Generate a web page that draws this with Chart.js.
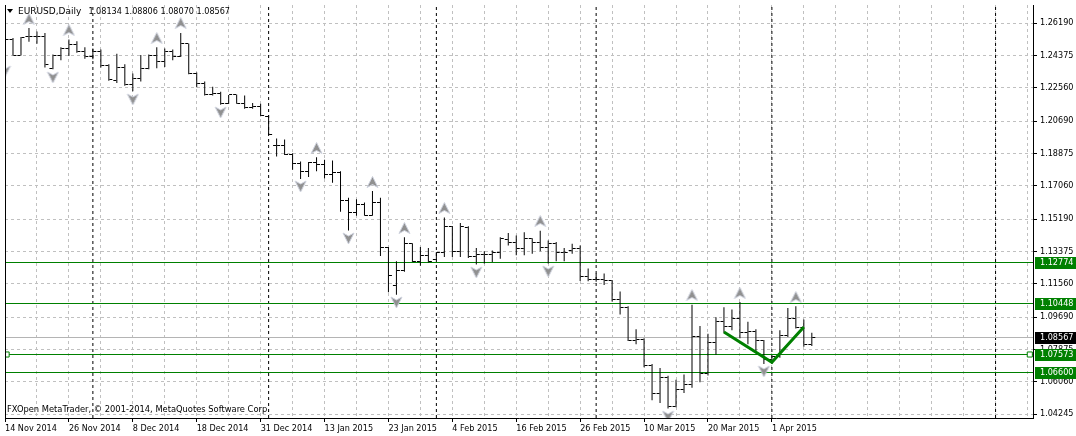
<!DOCTYPE html>
<html><head><meta charset="utf-8">
<script src="https://cdn.jsdelivr.net/npm/chart.js@4.4.1/dist/chart.umd.min.js"></script>
<style>html,body{margin:0;padding:0;background:#fff;overflow:hidden}#wrap{width:1076px;height:436px}</style>
</head><body><div id="wrap"><canvas id="c" width="1076" height="436"></canvas></div>
<script>
// ---------------- data ----------------
const symbolName = 'EURUSD,Daily';
const copyright = 'FXOpen MetaTrader, \u00a9 2001-2014, MetaQuotes Software Corp.';
const dateLabels = ['14 Nov 2014','26 Nov 2014','8 Dec 2014','18 Dec 2014','31 Dec 2014','13 Jan 2015','23 Jan 2015','4 Feb 2015','16 Feb 2015','26 Feb 2015','10 Mar 2015','20 Mar 2015','1 Apr 2015'];
const opens = [1.25200,1.25264,1.24393,1.25414,1.25447,1.25414,1.23656,1.24393,1.24765,1.24987,1.24615,1.24338,1.24615,1.23783,1.22990,1.23694,1.22768,1.23101,1.23639,1.24393,1.24027,1.24582,1.24304,1.25025,1.23362,1.22807,1.22175,1.22252,1.21659,1.22158,1.21698,1.21476,1.21531,1.20955,1.19346,1.19291,1.18831,1.18331,1.17871,1.18370,1.18237,1.17683,1.17816,1.16207,1.15558,1.16019,1.15409,1.16113,1.13579,1.11454,1.12325,1.13800,1.12824,1.13157,1.12896,1.13301,1.14782,1.13396,1.14727,1.13063,1.13190,1.13190,1.13301,1.14044,1.13856,1.13523,1.14078,1.13895,1.13617,1.13800,1.13301,1.13400,1.13562,1.11992,1.11771,1.11800,1.11715,1.10695,1.10234,1.08387,1.08443,1.06962,1.05393,1.06313,1.04688,1.05614,1.05908,1.08570,1.06500,1.08250,1.09419,1.09181,1.09608,1.08809,1.08864,1.08349,1.07334,1.07461,1.08681,1.09608,1.09100,1.08134];
const highs = [1.25458,1.25358,1.25414,1.25913,1.25724,1.25636,1.24432,1.24837,1.25264,1.25170,1.24837,1.24765,1.24709,1.23877,1.24471,1.23877,1.23362,1.24393,1.24432,1.24837,1.24765,1.24709,1.25636,1.25042,1.23417,1.22918,1.22619,1.22341,1.22158,1.22175,1.22119,1.21698,1.21659,1.21010,1.19718,1.19662,1.18886,1.18426,1.18387,1.18664,1.18514,1.18481,1.17871,1.16390,1.16296,1.16113,1.16762,1.16390,1.13617,1.12824,1.14172,1.13830,1.13617,1.13560,1.13340,1.15281,1.14800,1.14965,1.14782,1.13562,1.13379,1.13420,1.14172,1.14410,1.14266,1.14449,1.14116,1.14532,1.13989,1.13895,1.13562,1.13800,1.13712,1.12414,1.12137,1.12137,1.11771,1.11122,1.10290,1.08998,1.08498,1.07056,1.06835,1.06400,1.06169,1.06463,1.10384,1.09181,1.08754,1.09680,1.10234,1.10107,1.10528,1.09419,1.08998,1.08400,1.07517,1.08942,1.10195,1.10290,1.09552,1.08806];
const lows = [1.23933,1.24377,1.24377,1.25136,1.25025,1.23694,1.23600,1.24099,1.24338,1.24526,1.24194,1.24155,1.23694,1.22951,1.22824,1.22674,1.22363,1.22918,1.23600,1.23656,1.23728,1.24099,1.24282,1.23323,1.22585,1.22119,1.22119,1.21604,1.21650,1.21659,1.21382,1.21382,1.20955,1.19901,1.18703,1.18792,1.17960,1.17444,1.17555,1.17871,1.17472,1.17222,1.15597,1.14544,1.15375,1.15375,1.15375,1.13118,1.11083,1.10939,1.12231,1.12785,1.12564,1.12747,1.12880,1.13063,1.13063,1.13063,1.13007,1.12636,1.12691,1.12785,1.12968,1.13712,1.13157,1.13157,1.13246,1.13379,1.12691,1.12824,1.12824,1.13246,1.11715,1.11700,1.11676,1.11493,1.10567,1.09829,1.08349,1.08166,1.06868,1.05021,1.04871,1.04561,1.04620,1.05426,1.05725,1.06036,1.06408,1.07572,1.08809,1.08942,1.08498,1.08166,1.07700,1.07056,1.07090,1.07400,1.08570,1.09050,1.08020,1.08070];
const closes = [1.25264,1.24393,1.25358,1.25447,1.25414,1.23877,1.24393,1.24765,1.24987,1.24615,1.24338,1.24615,1.23783,1.23046,1.23694,1.22768,1.23101,1.23639,1.24393,1.24027,1.24582,1.24304,1.25025,1.23362,1.22807,1.22175,1.22252,1.21659,1.22158,1.21698,1.21476,1.21531,1.21010,1.19940,1.19291,1.18831,1.18331,1.17871,1.18370,1.18237,1.17683,1.17816,1.16207,1.15558,1.16019,1.15409,1.16113,1.13617,1.12048,1.12325,1.13800,1.12824,1.13157,1.12785,1.13285,1.14782,1.13396,1.14782,1.13063,1.13190,1.13200,1.13301,1.14078,1.13856,1.13523,1.14078,1.13895,1.13617,1.13800,1.13301,1.13340,1.13562,1.11954,1.11771,1.11800,1.11715,1.10695,1.10234,1.08387,1.08443,1.06962,1.05393,1.06313,1.04688,1.05614,1.05908,1.08570,1.06500,1.08250,1.09419,1.09181,1.09608,1.08809,1.08864,1.08349,1.07334,1.07461,1.08681,1.09608,1.09100,1.08134,1.08567];
const upFractals = [3,8,19,22,39,46,50,55,67,86,92,99];
const downFractals = [0,6,16,27,37,43,49,59,68,83,95];
const separators = [11,33,54,74,96,124];
const priceTicks = [1.26190,1.24375,1.22560,1.20690,1.18875,1.17060,1.15190,1.13375,1.11560,1.09690,1.07875,1.06060,1.04245];
const greenLevels = [1.12774,1.10448,1.07573,1.06600];
const selectedLevel = 1.07573;
const bidLevel = 1.08567;
const trendIdx = [90,96,100];
const trendPrice = [1.08848,1.07145,1.09125];

// ---------------- view settings ----------------
const X_MIN = 0, X_MAX = 128.6875;
const Y_MAX = 1.27205, Y_MIN = 1.04023;
const TICK_OFF = 0.25;
const FONT_FAMILY = '"DejaVu Sans Condensed", "DejaVu Sans", sans-serif';
const FONT_SIZE = 9;
const FONT_CSS = FONT_SIZE + 'px ' + FONT_FAMILY;
const GREEN = '#008000';

function labelFor(v) {
  if (v % 8 === 0 && v / 8 < dateLabels.length) return dateLabels[v / 8];
  return '';
}

function makeArrow(up) {
  const c = document.createElement('canvas');
  c.width = 13; c.height = 37;
  const g = c.getContext('2d');
  const cy = up ? 18.5 - 9.5 : 18.5 + 8;
  g.translate(6.5, cy);
  if (!up) g.scale(1, -1);
  g.beginPath();
  g.moveTo(0, -5.5); g.lineTo(5.5, 5.5); g.lineTo(0, 2.5); g.lineTo(-5.5, 5.5); g.closePath();
  g.fillStyle = '#909090'; g.fill();
  g.strokeStyle = '#ccd0dc'; g.lineWidth = 1; g.stroke();
  return c;
}
const upArrow = makeArrow(true), downArrow = makeArrow(false);

const hl = highs.map((h, i) => ({x: i, y: [lows[i], h]}));
const openPts = opens.map((o, i) => ({x: i - TICK_OFF, y: o}));
const closePts = closes.map((c, i) => ({x: i + TICK_OFF, y: c}));

const datasets = [];
datasets.push({type: 'line', data: trendIdx.map((t, k) => ({x: t, y: trendPrice[k]})), borderColor: GREEN, borderWidth: 3, pointRadius: 0, order: 0, tension: 0});
datasets.push({type: 'scatter', data: [{x: X_MIN + 0.2, y: selectedLevel}, {x: X_MAX - 0.4, y: selectedLevel}], pointStyle: 'rect', pointRadius: 3.6, pointBackgroundColor: '#fff', pointBorderColor: GREEN, pointBorderWidth: 1, order: 0, snapLevel: selectedLevel});
datasets.push({type: 'scatter', data: upFractals.map(i => ({x: i, y: highs[i]})), pointStyle: upArrow, order: 1, snapTranslate: true});
datasets.push({type: 'scatter', data: downFractals.map(i => ({x: i, y: lows[i]})), pointStyle: downArrow, order: 1, snapTranslate: true});
datasets.push({type: 'scatter', data: openPts, pointStyle: 'line', pointRadius: 1.5, pointBorderWidth: 1, pointBorderColor: '#000', order: 2, snapLines: true});
datasets.push({type: 'scatter', data: closePts, pointStyle: 'line', pointRadius: 1.5, pointBorderWidth: 1, pointBorderColor: '#000', order: 2, snapLines: true});
datasets.push({type: 'bar', data: hl, backgroundColor: '#000', borderWidth: 0, barThickness: 1, inflateAmount: 0, order: 2});
greenLevels.forEach(v => datasets.push({type: 'line', data: [{x: X_MIN, y: v}, {x: X_MAX, y: v}], borderColor: GREEN, borderWidth: 1, pointRadius: 0, order: 3, snapLevel: v}));
datasets.push({type: 'line', data: [{x: X_MIN, y: bidLevel}, {x: X_MAX, y: bidLevel}], borderColor: '#b4b4b4', borderWidth: 1, pointRadius: 0, order: 4, snapLevel: bidLevel});
separators.forEach(s => datasets.push({type: 'line', data: [{x: s, y: Y_MIN}, {x: s, y: Y_MAX}], borderColor: '#000', borderWidth: 1, borderDash: [3, 3], pointRadius: 0, order: 5}));

// pixel snapping so 1px lines stay crisp like the terminal's
const snap = {
  id: 'snap',
  beforeDatasetDraw(chart, args) {
    const ds = chart.data.datasets[args.index];
    const ctx = chart.ctx;
    if (ds.snapLevel !== undefined) {
      const py = chart.scales.y.getPixelForValue(ds.snapLevel);
      ctx.save();
      ctx.translate(0, Math.floor(py) + 0.5 - py);
      ds._saved = true;
    }
    if (ds.snapLines) {
      const mt = CanvasRenderingContext2D.prototype.moveTo, lt = CanvasRenderingContext2D.prototype.lineTo;
      ctx.moveTo = function (x, y) { return mt.call(this, x, Math.floor(y) + 0.5); };
      ctx.lineTo = function (x, y) { return lt.call(this, x, Math.floor(y) + 0.5); };
    }
    if (ds.snapTranslate) {
      const tr = CanvasRenderingContext2D.prototype.translate;
      ctx.translate = function (x, y) { return tr.call(this, x, Math.floor(y) + 0.5); };
    }
  },
  afterDatasetDraw(chart, args) {
    const ds = chart.data.datasets[args.index];
    const ctx = chart.ctx;
    if (ds.snapLines) { delete ctx.moveTo; delete ctx.lineTo; }
    if (ds.snapTranslate) { delete ctx.translate; }
    if (ds._saved) { ctx.restore(); ds._saved = false; }
  }
};

const overlay = {
  id: 'overlay',
  afterDraw(chart) {
    const {ctx, chartArea: a, scales: {y}} = chart;
    ctx.save();
    ctx.strokeStyle = '#000'; ctx.lineWidth = 1;
    const lx = Math.floor(a.left) + 0.5;
    ctx.beginPath(); ctx.moveTo(lx, a.top); ctx.lineTo(lx, a.bottom); ctx.stroke();
    ctx.font = FONT_CSS; ctx.textBaseline = 'middle'; ctx.textAlign = 'left';
    const boxes = greenLevels.map(v => ({v, bg: GREEN})).concat([{v: bidLevel, bg: '#000'}]);
    boxes.forEach(b => {
      const py = Math.floor(y.getPixelForValue(b.v));
      ctx.fillStyle = b.bg;
      ctx.fillRect(a.right + 2, py - 5, chart.width - a.right - 2, 12);
      ctx.fillStyle = '#fff';
      ctx.fillText(b.v.toFixed(5), a.right + 7, py + 1);
    });
    // title
    ctx.fillStyle = '#000';
    ctx.beginPath(); ctx.moveTo(7, 9); ctx.lineTo(13, 9); ctx.lineTo(10, 13); ctx.closePath(); ctx.fill();
    ctx.font = FONT_SIZE + 'px "DejaVu Sans", sans-serif';
    ctx.fillText(symbolName, 18, 11.5);
    const w = ctx.measureText(symbolName).width;
    ctx.font = FONT_CSS;
    const n = opens.length - 1;
    const ohlc = [opens[n], highs[n], lows[n], closes[n]].map(v => v.toFixed(5)).join(' ');
    ctx.fillText(ohlc, 18 + w + 7, 11.5);
    ctx.font = '9.25px ' + FONT_FAMILY;
    ctx.fillText(copyright, 7, 410);
    ctx.restore();
  }
};

Chart.defaults.font.family = FONT_FAMILY;
Chart.defaults.font.size = FONT_SIZE;
Chart.defaults.color = '#000';

new Chart(document.getElementById('c'), {
  type: 'bar',
  data: {datasets},
  options: {
    responsive: false, animation: false, events: [],
    layout: {padding: {left: 3.5, top: 0, right: 0, bottom: 0}},
    plugins: {legend: {display: false}, tooltip: {enabled: false}, title: {display: false}},
    scales: {
      x: {
        type: 'linear', min: X_MIN, max: X_MAX, offset: false, position: 'bottom',
        afterBuildTicks: s => { const t = []; for (let v = 0; v <= 128; v += 4) t.push({value: v}); s.ticks = t; },
        afterFit: s => { s.height = 18; s.paddingLeft = 0; s.paddingRight = 0; },
        grid: {color: '#c0c0c0', lineWidth: 1, offset: false, drawTicks: true, tickLength: 4,
               tickColor: c => (c.tick && labelFor(c.tick.value)) ? '#000' : 'rgba(0,0,0,0)', tickWidth: 1},
        border: {display: true, color: '#000', width: 1, dash: [3, 3]},
        ticks: {autoSkip: false, maxRotation: 0, minRotation: 0, align: 'start', padding: 1, color: '#000',
                font: {family: FONT_FAMILY, size: FONT_SIZE}, callback: v => labelFor(v)}
      },
      y: {
        type: 'linear', position: 'right', min: Y_MIN, max: Y_MAX,
        afterBuildTicks: s => { s.ticks = priceTicks.map(v => ({value: v})); },
        afterFit: s => { s.width = 43; s.paddingTop = 0; s.paddingBottom = 0; },
        grid: {color: '#c0c0c0', lineWidth: 1, drawTicks: true, tickLength: 4, tickColor: '#000', tickWidth: 1},
        border: {display: true, color: '#000', width: 1, dash: [3, 3]},
        ticks: {autoSkip: false, padding: 3, color: '#000', font: {family: FONT_FAMILY, size: FONT_SIZE},
                callback: v => Number(v).toFixed(5)}
      }
    }
  },
  plugins: [snap, overlay]
});
</script>
</body></html>
